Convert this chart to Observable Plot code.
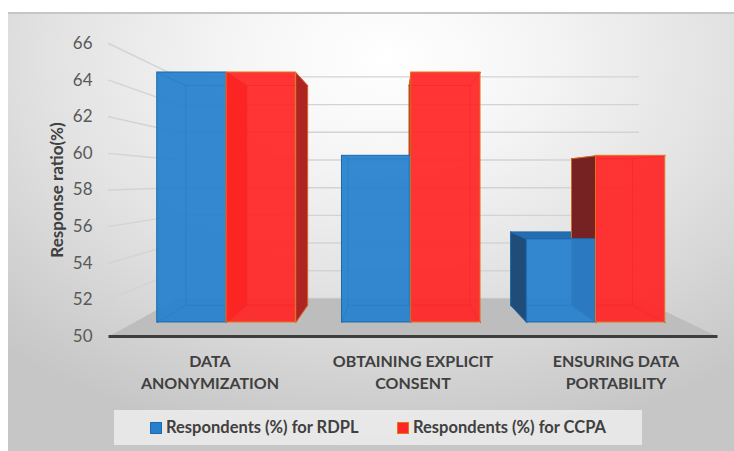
<!DOCTYPE html>
<html>
<head>
<meta charset="utf-8">
<script src="https://cdn.jsdelivr.net/npm/d3@7"></script>
<script src="https://cdn.jsdelivr.net/npm/@observablehq/plot@0.6"></script>
<style>
html, body { margin: 0; padding: 0; background: #ffffff; }
#wrap { position: relative; width: 734px; height: 451px; overflow: hidden; font-family: Lato, "Open Sans", sans-serif; }
#bg { position: absolute; left: 8px; top: 12px; width: 726px; height: 439px; box-sizing: border-box;
  border-top: 2px solid #c6c6c6;
  background: radial-gradient(ellipse 78% 90% at 52% 10%, #ffffff 0%, #f6f6f6 25%, #e2e2e2 60%, #d0d0d0 85%, #c6c6c6 100%); }
#chart { position: absolute; left: 0; top: 0; }
#legend { position: absolute; left: 114px; top: 410px; width: 528px; height: 35px; background: rgba(242,242,242,0.75); }
.sw { position: absolute; top: 12px; width: 12px; height: 12px; box-sizing: border-box; }
.lt { position: absolute; top: 7px; font-size: 16.5px; font-weight: 700; color: #404040; white-space: nowrap; line-height: 20px; }
</style>
</head>
<body>
<div id="wrap">
  <div id="bg"></div>
  <div id="chart"></div>
  <div id="legend"></div>
</div>
<script>
// ---- data ----
const categories = ["DATA\nANONYMIZATION", "OBTAINING EXPLICIT\nCONSENT", "ENSURING DATA\nPORTABILITY"];
const seriesNames = ["Respondents (%) for RDPL", "Respondents (%) for CCPA"];
const rdpl = [65, 60, 55];
const ccpa = [65, 65, 60];
const yTicks = [50, 52, 54, 56, 58, 60, 62, 64, 66];
const yTitle = "Response ratio(%)";

// ---- styling / perspective constants ----
const BASE = 50;
const VX = 1.404, VY = 58.52;          // vanishing point (data space)
const KF = 0.91, KB = 0.80, KW = 0.756; // depth factors: bar front, bar back, back wall
const BW = 0.375;
const P = (x, y, k) => ({x: VX + k * (x - VX), y: VY + k * (y - VY)});

const look = [
  {front: "#2680cc", stroke: "#1c68ae", side: "#1f4d78", right: "#1f5a90", top: "#236db0", hidden: "#1e6cb2", edge: "#1a5a98"},
  {front: "#ff2626", stroke: "#e2741e", side: "#772222", right: "#ad2424", top: "#d82222", hidden: "#d81212", edge: "#c01414"}
];

const seriesValues = [rdpl, ccpa];
const bars = [];
categories.forEach((c, i) => {
  seriesValues.forEach((vals, s) => {
    const x0 = i + 0.5 - BW + s * BW;
    bars.push({cat: c, s, name: seriesNames[s], value: vals[i], x0, x1: x0 + BW});
  });
});

const hiddenFaces = [], visibleFaces = [], hiddenEdges = [];
let fid = 0;
function addPoly(arr, pts, color, stroke) {
  const id = fid++;
  [...pts, pts[0]].forEach(p => arr.push({id, x: p.x, y: p.y, color, stroke}));
}
function addEdge(a, b, color) {
  const id = fid++;
  hiddenEdges.push({id, x: a.x, y: a.y, color});
  hiddenEdges.push({id, x: b.x, y: b.y, color});
}
bars.forEach(b => {
  const L = look[b.s], v = b.value;
  const corners = [[b.x0, BASE], [b.x1, BASE], [b.x1, v], [b.x0, v]];
  const back = corners.map(([x, y]) => P(x, y, KB));
  const front = corners.map(([x, y]) => P(x, y, KF));
  for (let j = 0; j < 4; j++) {
    addEdge(back[j], back[(j + 1) % 4], L.edge);
    addEdge(front[j], back[j], L.edge);
  }
  const leftFace = [P(b.x0, BASE, KF), P(b.x0, v, KF), P(b.x0, v, KB), P(b.x0, BASE, KB)];
  const rightFace = [P(b.x1, BASE, KF), P(b.x1, v, KF), P(b.x1, v, KB), P(b.x1, BASE, KB)];
  const topFace = [P(b.x0, v, KF), P(b.x1, v, KF), P(b.x1, v, KB), P(b.x0, v, KB)];
  if (b.s === 0) {
    if (b.x0 > VX) addPoly(visibleFaces, leftFace, L.side, L.stroke);
  } else {
    if (b.x0 > VX) addPoly(visibleFaces, leftFace, L.side, L.stroke);
    else addPoly(hiddenFaces, leftFace, L.hidden, "none");
    if (b.x1 < VX) addPoly(visibleFaces, rightFace, L.right, L.stroke);
  }
  if (v < VY) addPoly(visibleFaces, topFace, L.top, L.stroke);
});

// floor + gridlines (walls)
const floorPts = [P(0, BASE, 1), P(3, BASE, 1), P(3, BASE, KW), P(0, BASE, KW), P(0, BASE, 1)];
const floorLine = [P(0, BASE, 1), P(3, BASE, 1)];
const grid = [];
yTicks.forEach(t => {
  [P(0, t, 1), P(0, t, KW), P(3, t, KW)].forEach(p => grid.push({t, x: p.x, y: p.y}));
});

const plot = Plot.plot({
  width: 734,
  height: 451,
  marginLeft: 108, marginRight: 17, marginTop: 43, marginBottom: 115,
  style: {background: "transparent", fontFamily: "Lato, 'Open Sans', sans-serif", fontSize: "17px", color: "#595959", overflow: "visible"},
  x: {domain: [0, 3], range: [108, 717], axis: null},
  y: {domain: [50, 66], range: [336, 43], ticks: yTicks, tickSize: 0, tickPadding: 16, label: null, tickFormat: d => String(d)},
  color: {type: "identity"},
  marks: [
    Plot.line(grid, {x: "x", y: "y", z: "t", stroke: "#d3d3d3", strokeWidth: 1.4}),
    Plot.line(floorPts, {x: "x", y: "y", fill: "#bdbdbd", stroke: "none"}),
    Plot.line(floorLine, {x: "x", y: "y", stroke: "#3e3e3e", strokeWidth: 3, strokeLinecap: "butt"}),
    Plot.line(hiddenFaces, {x: "x", y: "y", z: "id", fill: "color", stroke: "none"}),
    Plot.line(hiddenEdges, {x: "x", y: "y", z: "id", stroke: "color", strokeWidth: 1, strokeOpacity: 0.75}),
    Plot.line(visibleFaces, {x: "x", y: "y", z: "id", fill: "color", stroke: "stroke", strokeWidth: 0.8}),
    Plot.rect(bars, {
      x1: d => P(d.x0, BASE, KF).x, x2: d => P(d.x1, BASE, KF).x,
      y1: d => P(d.x0, BASE, KF).y, y2: d => P(d.x0, d.value, KF).y,
      fill: d => look[d.s].front, fillOpacity: 0.93,
      stroke: d => look[d.s].stroke, strokeWidth: 1,
      title: d => `${d.name}: ${d.value}`
    }),
    Plot.text(categories, {
      x: (d, i) => i + 0.5, y: () => BASE, text: d => d,
      lineAnchor: "top", dy: 14, lineHeight: 1.42,
      fontSize: 16, fontWeight: "bold", fill: "#404040"
    }),
    Plot.text([yTitle], {
      frameAnchor: "left", textAnchor: "middle", text: d => d, rotate: -90, dx: -51,
      fontSize: 17, fontWeight: "bold", fill: "#404040"
    })
  ]
});
document.getElementById("chart").appendChild(plot);

// legend (HTML, below the plot area)
const legend = document.getElementById("legend");
const legendPos = [{sw: 36, tx: 52}, {sw: 283, tx: 299}];
seriesNames.forEach((n, s) => {
  const sw = document.createElement("div");
  sw.className = "sw";
  sw.style.left = legendPos[s].sw + "px";
  sw.style.background = look[s].front;
  sw.style.border = "1px solid " + look[s].stroke;
  legend.appendChild(sw);
  const t = document.createElement("div");
  t.className = "lt";
  t.style.left = legendPos[s].tx + "px";
  t.textContent = n;
  legend.appendChild(t);
});
</script>
</body>
</html>
